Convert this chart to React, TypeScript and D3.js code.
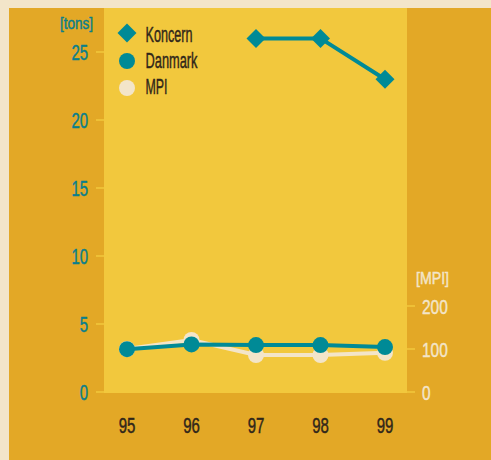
import React from "react";
import * as d3 from "d3";

const years = ["95", "96", "97", "98", "99"];
const koncern: (number | null)[] = [null, null, 26, 26, 23];
const danmark = [3.15, 3.5, 3.45, 3.45, 3.3];
const mpi = [100, 121, 86, 86, 91];
const leftTicks = [0, 5, 10, 15, 20, 25];
const rightTicks = [0, 100, 200];
const legendItems = ["Koncern", "Danmark", "MPI"];

const W = 491, H = 460;
const FONT = "'Liberation Sans', Arial, sans-serif";
const TEAL = "#008a96";
const CREAM = "#f3e5c9";
const DARK = "#30261a";

// condensed text helper: fixed text width via textLength
function CText(props: {
  x: number; y: number; w: number; size: number; fill: string;
  anchor?: "start" | "middle" | "end"; children: string;
}) {
  const { x, y, w, size, fill, anchor = "start", children } = props;
  const left = anchor === "start" ? x : anchor === "middle" ? x - w / 2 : x - w;
  return (
    <text
      x={left}
      y={y}
      fontSize={size}
      fill={fill}
      stroke={fill}
      strokeWidth={0.45}
      textLength={w}
      lengthAdjust="spacingAndGlyphs"
    >
      {children}
    </text>
  );
}

export default function App() {
  const plotL = 104, plotR = 407, plotT = 8, plotB = 393;
  const x = d3.scalePoint<string>().domain(years).range([127, 385]);
  const yL = d3.scaleLinear().domain([0, 25]).range([392, 52]);
  const yR = d3.scaleLinear().domain([0, 200]).range([392, 306]);

  const lineK = d3
    .line<number | null>()
    .defined((d) => d != null)
    .x((_, i) => x(years[i])!)
    .y((d) => yL(d as number));
  const lineD = d3.line<number>().x((_, i) => x(years[i])!).y((d) => yL(d));
  const lineM = d3.line<number>().x((_, i) => x(years[i])!).y((d) => yR(d));

  const diamond = (cx: number, cy: number, s: number) =>
    `M${cx},${cy - s}L${cx + s},${cy}L${cx},${cy + s}L${cx - s},${cy}Z`;

  const legendW = [47, 52, 22];

  return (
    <svg
      width={W}
      height={H}
      style={{ position: "absolute", left: 0, top: 0, display: "block" }}
      fontFamily={FONT}
    >
      <rect x={0} y={0} width={W} height={H} fill={CREAM} />
      <rect x={9} y={8} width={W - 9} height={H - 8} fill="#e3a826" />
      <rect x={plotL} y={plotT} width={plotR - plotL} height={plotB - plotT} fill="#f2c83d" />

      {/* left axis */}
      {leftTicks.map((t) => (
        <g key={"l" + t}>
          <line x1={96} x2={104} y1={yL(t)} y2={yL(t)} stroke="#f2c83d" strokeWidth={1.5} />
          <CText x={88} y={yL(t) + 8} w={String(t).length * 8.3} size={22} fill="#0a7f8c" anchor="end">
            {String(t)}
          </CText>
        </g>
      ))}
      <CText x={60} y={29} w={33} size={16} fill="#0a7f8c">[tons]</CText>

      {/* right axis */}
      {rightTicks.map((t) => (
        <g key={"r" + t}>
          <line x1={407} x2={415} y1={yR(t)} y2={yR(t)} stroke="#f2c83d" strokeWidth={1.5} />
          <CText x={422} y={yR(t) + 8} w={String(t).length * 8.6} size={21} fill={CREAM}>
            {String(t)}
          </CText>
        </g>
      ))}
      <CText x={416} y={284} w={33} size={16} fill={CREAM}>[MPI]</CText>

      {/* x labels */}
      {years.map((yr) => (
        <CText key={yr} x={x(yr)!} y={433} w={16.7} size={22} fill={DARK} anchor="middle">
          {yr}
        </CText>
      ))}

      {/* MPI */}
      <path d={lineM(mpi)!} fill="none" stroke={CREAM} strokeWidth={4} />
      {mpi.map((v, i) => (
        <circle key={"m" + i} cx={x(years[i])} cy={yR(v)} r={8} fill={CREAM} />
      ))}

      {/* Danmark */}
      <path d={lineD(danmark)!} fill="none" stroke={TEAL} strokeWidth={4} />
      {danmark.map((v, i) => (
        <circle key={"d" + i} cx={x(years[i])} cy={yL(v)} r={8} fill={TEAL} />
      ))}

      {/* Koncern */}
      <path d={lineK(koncern)!} fill="none" stroke={TEAL} strokeWidth={4} />
      {koncern.map((v, i) =>
        v == null ? null : (
          <path key={"k" + i} d={diamond(x(years[i])!, yL(v), 9.5)} fill={TEAL} />
        )
      )}

      {/* legend */}
      <path d={diamond(127, 33, 9.5)} fill={TEAL} />
      <circle cx={127} cy={61} r={8} fill={TEAL} />
      <circle cx={127} cy={88} r={8} fill={CREAM} />
      {legendItems.map((name, i) => (
        <CText key={name} x={145.5} y={41.5 + i * 26} w={legendW[i]} size={22} fill={DARK}>
          {name}
        </CText>
      ))}
    </svg>
  );
}
